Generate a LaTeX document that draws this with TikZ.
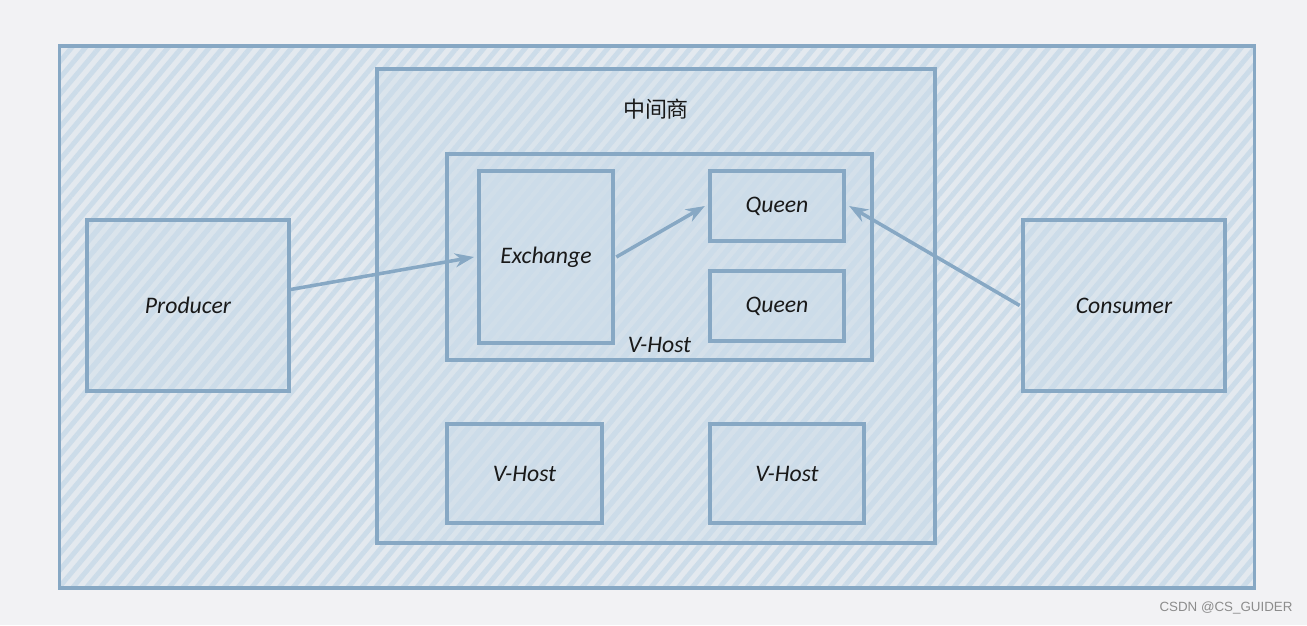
\documentclass[tikz,border=0pt]{standalone}
\usepackage{fontspec}
\setmainfont{Carlito}
\setsansfont{Liberation Sans}
\newfontfamily\cjk{Noto Sans CJK SC}
\usepackage{tikz}
\usetikzlibrary{arrows.meta, positioning, patterns.meta}

\definecolor{paper}{HTML}{F2F2F4}
\definecolor{edge}{HTML}{87A8C4}
\definecolor{hatch}{HTML}{CCDCE9}

\begin{document}
\begin{tikzpicture}[
    x=0.02cm, y=-0.02cm,
    box/.style={rectangle, draw=edge, line width=1.8pt,
        preaction={fill=hatch, fill opacity=0.38},
        pattern={Lines[angle=50, distance=6pt, line width=2.8pt]}, pattern color=hatch,
        font=\fontsize{13.5}{15}\selectfont\itshape, text=black!90},
    arrow/.style={-{Stealth[length=3.8mm, width=2.8mm]}, line width=2pt, draw=edge}
]
\useasboundingbox[fill=paper] (0,0) rectangle (1307,625);

\node[box, minimum width=23.92cm, minimum height=10.84cm] (host) at (657,317) {};
\node[box, minimum width=11.16cm, minimum height=9.48cm,
    label={[anchor=north, yshift=-0.5cm, text=black!90, font=\cjk\fontsize{12.5}{14}\selectfont]north:中间商}] (broker) at (656,306) {};
\node[box, minimum width=8.5cm, minimum height=4.12cm,
    label={[anchor=south, yshift=0.05cm, text=black!90, font=\fontsize{13.5}{15}\selectfont\itshape]south:V-Host}] (vhost) at (659.5,257) {};
\node[box, minimum width=2.68cm, minimum height=3.44cm] (exchange) at (546,257) {Exchange};
\node[box, minimum width=2.68cm, minimum height=1.4cm] (queenA) at (777,206) {Queen};
\node[box, minimum width=2.68cm, minimum height=1.4cm] (queenB) at (777,306) {Queen};
\node[box, minimum width=3.1cm, minimum height=1.98cm] (vhostB) at (524.5,473.5) {V-Host};
\node[box, minimum width=3.08cm, minimum height=1.98cm] (vhostC) at (787,473.5) {V-Host};
\node[box, minimum width=4.04cm, minimum height=3.42cm] (producer) at (188,305.5) {Producer};
\node[box, minimum width=4.04cm, minimum height=3.42cm] (consumer) at (1124,305.5) {Consumer};

\draw[arrow] ([yshift=0.32cm]producer.east) -- ([xshift=-2pt]exchange.west);
\draw[arrow] ([xshift=1pt]exchange.east) -- ([xshift=-2pt]queenA.west);
\draw[arrow] ([xshift=-1pt]consumer.west) -- ([xshift=2pt]queenA.east);

\node[font=\sffamily\fontsize{7.6}{9}\selectfont, text=black!45] (mark) at (1226,608) {CSDN @CS\_GUIDER};
\end{tikzpicture}
\end{document}
